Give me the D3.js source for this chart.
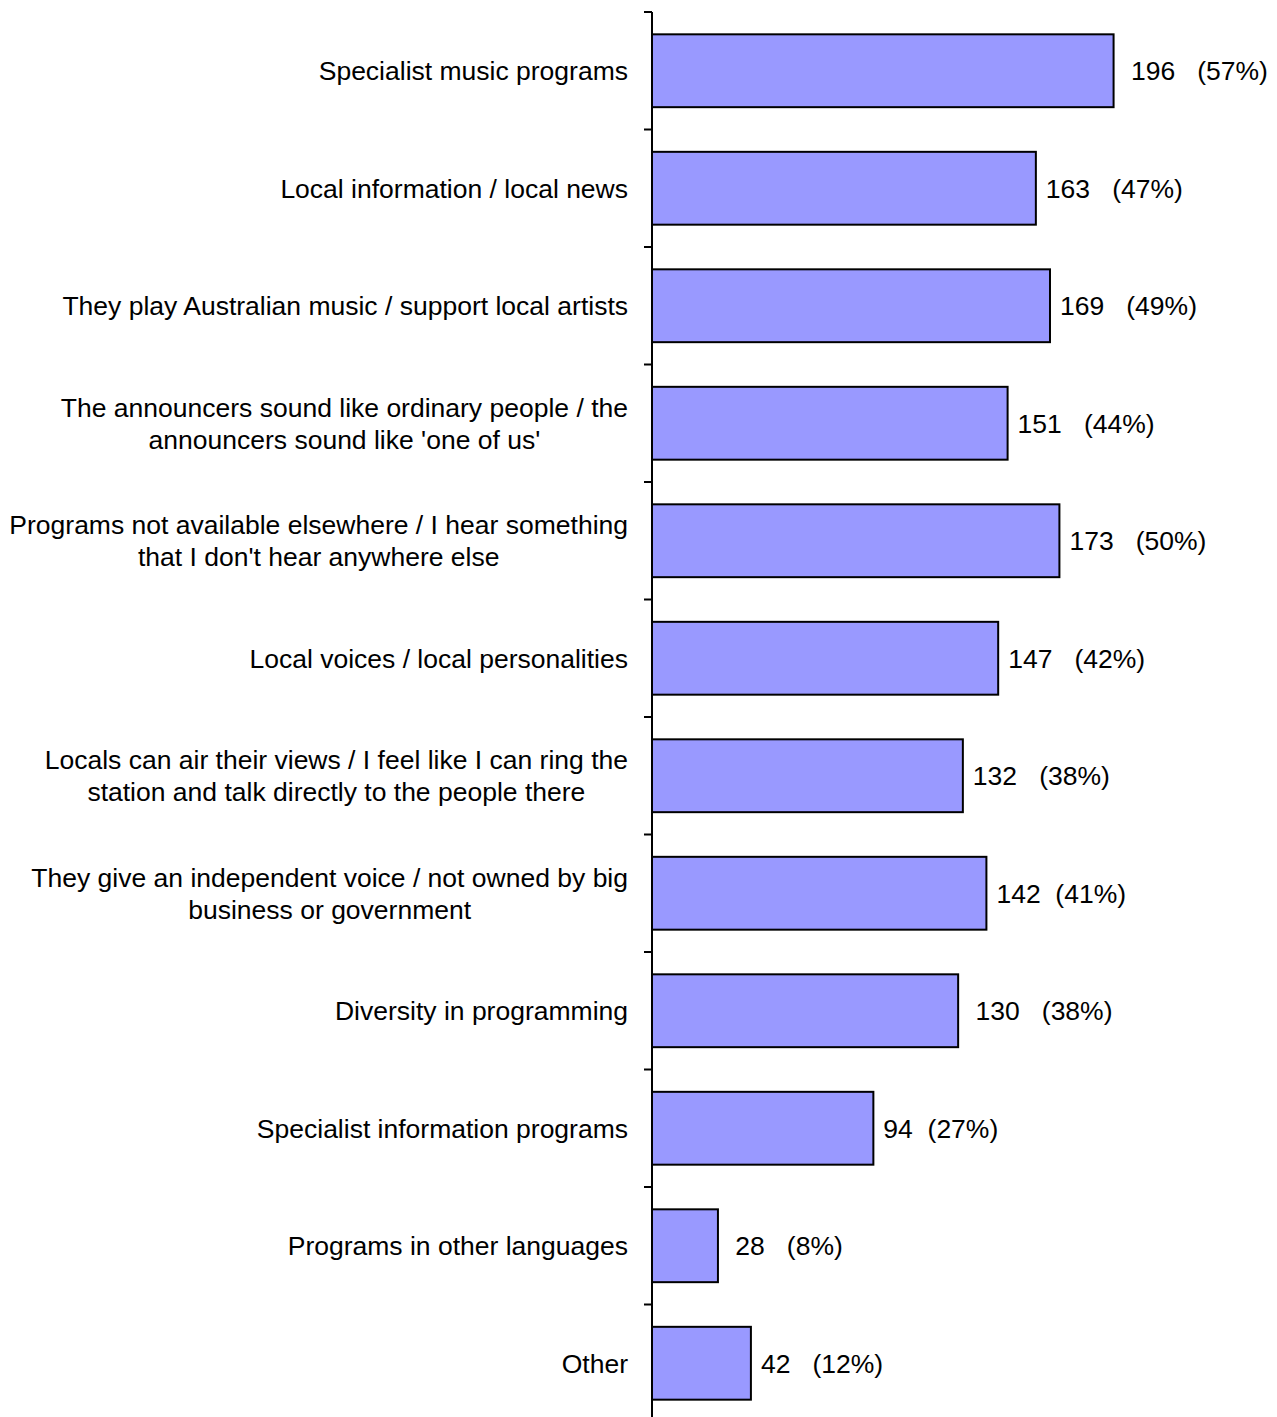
<!DOCTYPE html>
<html>
<head>
<meta charset="utf-8">
<script src="https://cdn.jsdelivr.net/npm/d3@7"></script>
<style>
  body { margin: 0; background: #fff; }
  svg text { font-family: "Liberation Sans", Arial, sans-serif; font-size: 26.5px; fill: #000; }
</style>
</head>
<body>
<svg id="chart"></svg>
<script>
// categories (each entry is the lines of one label)
const categories = [
    ["Specialist music programs"],
    ["Local information / local news"],
    ["They play Australian music / support local artists"],
    ["The announcers sound like ordinary people / the", "announcers sound like 'one of us'"],
    ["Programs not available elsewhere / I hear something", "that I don't hear anywhere else"],
    ["Local voices / local personalities"],
    ["Locals can air their views / I feel like I can ring the", "station and talk directly to the people there"],
    ["They give an independent voice / not owned by big", "business or government"],
    ["Diversity in programming"],
    ["Specialist information programs"],
    ["Programs in other languages"],
    ["Other"]
];
const counts = [196, 163, 169, 151, 173, 147, 132, 142, 130, 94, 28, 42];
const valueLabels = [
    " 196   (57%)", "163   (47%)", "169   (49%)", "151   (44%)",
    "173   (50%)", "147   (42%)", "132   (38%)", "142  (41%)",
    " 130   (38%)", "94  (27%)", " 28   (8%)", "42   (12%)"
];

const config = {
    width: 1277,
    height: 1417,
    axisX: 652,
    top: 12,
    bottom: 1422,
    labelRight: 628,
    lineHeight: 32
};

const svg = d3.select("#chart")
    .attr("width", config.width)
    .attr("height", config.height);

const ids = categories.map((d, i) => i);

// scales
const x = d3.scaleLinear().domain([0, 200]).range([config.axisX, 1123]);
const y = d3.scaleBand().domain(ids).range([config.top, config.bottom])
    .paddingInner(0.38).paddingOuter(0.19);

// bars
svg.selectAll("rect.bar")
    .data(ids)
    .join("rect")
    .attr("class", "bar")
    .attr("x", x(0))
    .attr("y", i => y(i))
    .attr("width", i => x(counts[i]) - x(0))
    .attr("height", y.bandwidth())
    .style("fill", "#9999ff")
    .style("stroke", "#000")
    .style("stroke-width", 2);

// value labels
svg.selectAll("text.value")
    .data(ids)
    .join("text")
    .attr("class", "value")
    .attr("x", i => x(counts[i]) + 10)
    .attr("y", i => y(i) + y.bandwidth() / 2)
    .attr("dy", "0.35em")
    .attr("xml:space", "preserve")
    .style("white-space", "pre")
    .text(i => valueLabels[i]);

// category labels, centred block whose right edge sits at labelRight
const labels = svg.selectAll("text.cat")
    .data(ids)
    .join("text")
    .attr("class", "cat")
    .attr("text-anchor", "middle");

labels.each(function (i) {
    const t = d3.select(this);
    const lines = categories[i];
    const cy = y(i) + y.bandwidth() / 2;
    t.selectAll("tspan")
        .data(lines)
        .join("tspan")
        .attr("dy", "0.35em")
        .attr("y", (d, k) => cy + (k - (lines.length - 1) / 2) * config.lineHeight)
        .text(d => d);
    let maxW = 0;
    t.selectAll("tspan").each(function () {
        maxW = Math.max(maxW, this.getComputedTextLength());
    });
    t.selectAll("tspan").attr("x", config.labelRight - maxW / 2);
});

// axis line and ticks at band boundaries
svg.append("line")
    .attr("x1", config.axisX).attr("x2", config.axisX)
    .attr("y1", config.top).attr("y2", config.height)
    .style("stroke", "#000").style("stroke-width", 2);

const bounds = ids.map(i => y(i) - y.step() * y.paddingInner() / 2);
svg.selectAll("line.tick")
    .data(bounds)
    .join("line")
    .attr("class", "tick")
    .attr("x1", config.axisX - 8).attr("x2", config.axisX)
    .attr("y1", d => d).attr("y2", d => d)
    .style("stroke", "#000").style("stroke-width", 2);
</script>
</body>
</html>
